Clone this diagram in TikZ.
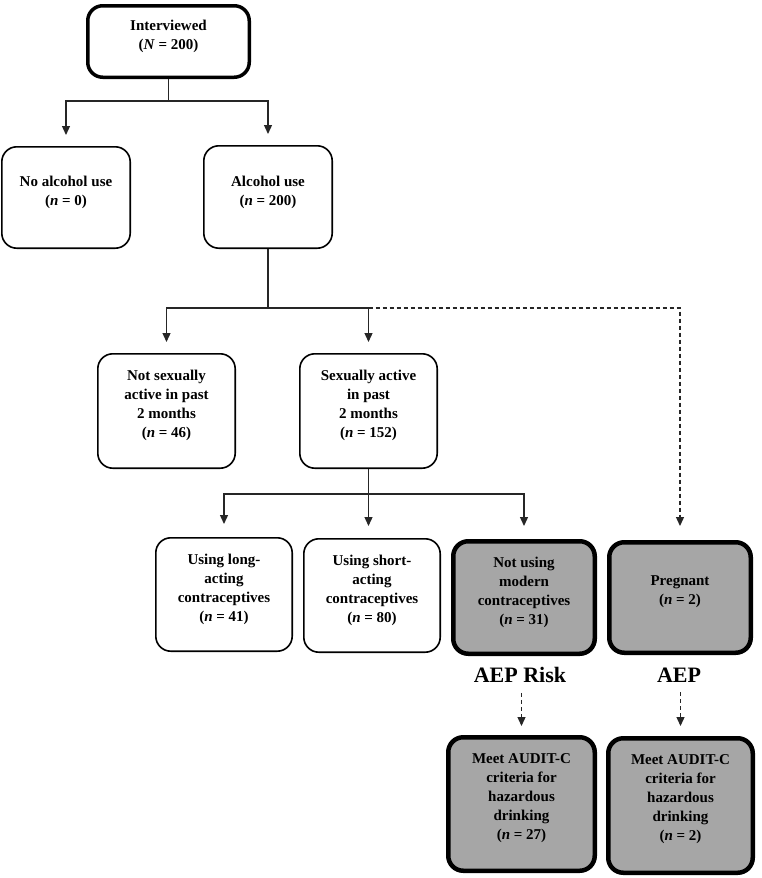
\documentclass[tikz,border=0pt]{standalone}
\usepackage{fontspec}
\setmainfont{Liberation Serif}
\usetikzlibrary{arrows.meta,calc}
\definecolor{boxgray}{RGB}{166,166,166}
\begin{document}
\begin{tikzpicture}[x=1pt,y=-1pt,
  box/.style={draw=black, rounded corners=15pt, line width=1.6pt, fill=white, inner sep=0pt},
  gbox/.style={box, line width=4.5pt, fill=boxgray},
  tbox/.style={box, line width=3.5pt},
  txt/.style={align=center, font={\fontsize{15}{19}\selectfont\bfseries}, inner sep=0pt},
  big/.style={font={\fontsize{22}{26}\selectfont\bfseries}, inner sep=0pt},
  conn/.style={line width=1.3pt, draw=black!85},
  arr/.style={conn, -{Triangle[length=9pt,width=8pt]}},
  darr/.style={arr, dash pattern=on 4pt off 3pt}
]
\useasboundingbox (0,0) rectangle (761,878);

% boxes
\node[tbox, minimum width=161.5pt, minimum height=71.5pt] (int) at (168.5,41.5) {};
\node[box, minimum width=128.4pt, minimum height=101.4pt] (noalc) at (66,197.5) {};
\node[box, minimum width=128.4pt, minimum height=102.4pt] (alc) at (268,197) {};
\node[box, minimum width=137.4pt, minimum height=114.4pt] (nsa) at (166.5,411) {};
\node[box, minimum width=137.4pt, minimum height=114.4pt] (sa) at (368.5,411) {};
\node[box, minimum width=136.4pt, minimum height=113.4pt] (long) at (224,594.5) {};
\node[box, minimum width=136.4pt, minimum height=113.4pt] (short) at (372,595.5) {};
\node[gbox, minimum width=141.5pt, minimum height=112.5pt] (notuse) at (524,597.5) {};
\node[gbox, minimum width=141.5pt, minimum height=110.5pt] (preg) at (680,597.5) {};
\node[gbox, minimum width=146.5pt, minimum height=133.5pt] (meet1) at (521.5,804) {};
\node[gbox, minimum width=144.5pt, minimum height=134.5pt] (meet2) at (680.5,805.5) {};

% texts
\node[txt] (int-t) at ([yshift=5.5pt]int.center) {Interviewed\\(\textit{N} = 200)};
\node[txt] (noalc-t) at ([yshift=5pt]noalc.center) {No alcohol use\\(\textit{n} = 0)};
\node[txt] (alc-t) at ([yshift=5pt]alc.center) {Alcohol use\\(\textit{n} = 200)};
\node[txt] (nsa-t) at ([yshift=5.5pt]nsa.center) {Not sexually\\active in past\\2 months\\(\textit{n} = 46)};
\node[txt] (sa-t) at ([yshift=5.5pt]sa.center) {Sexually active\\in past\\2 months\\(\textit{n} = 152)};
\node[txt] (long-t) at ([yshift=5.5pt]long.center) {Using long-\\acting\\contraceptives\\(\textit{n} = 41)};
\node[txt] (short-t) at ([yshift=5.5pt]short.center) {Using short-\\acting\\contraceptives\\(\textit{n} = 80)};
\node[txt] (notuse-t) at ([yshift=5.5pt]notuse.center) {Not using\\modern\\contraceptives\\(\textit{n} = 31)};
\node[txt] (preg-t) at ([yshift=5.5pt]preg.center) {Pregnant\\(\textit{n} = 2)};
\node[txt] (meet1-t) at ([yshift=6pt]meet1.center) {Meet AUDIT-C\\criteria for\\hazardous\\drinking\\(\textit{n} = 27)};
\node[txt] (meet2-t) at ([yshift=6pt]meet2.center) {Meet AUDIT-C\\criteria for\\hazardous\\drinking\\(\textit{n} = 2)};

\node[big] (aeprisk) at (520,675) {AEP Risk};
\node[big] (aep) at (679,675) {AEP};

% level 1
\coordinate (j1) at ($(int.south)+(0,22)$);
\draw[conn] (int.south) -- (j1);
\draw[arr] (j1) -| ([yshift=11pt]noalc.north);
\draw[arr] (j1) -| ([yshift=11pt]alc.north);

% level 2
\coordinate (j2) at ($(alc.south)+(0,59)$);
\draw[conn] (alc.south) -- (j2);
\draw[arr] (j2) -| ([yshift=11pt]nsa.north);
\draw[arr] (j2) -| ([yshift=11pt]sa.north);
\coordinate (j2r) at (j2 -| sa.north);
\draw[darr] (j2r) -| ([yshift=14pt]preg.north);

% level 3
\coordinate (j3) at ($(sa.south)+(0,25)$);
\draw[conn] (sa.south) -- (j3);
\draw[arr] (j3) -| ([yshift=13pt]long.north);
\coordinate (s3) at ([yshift=12pt]short.north);
\draw[arr] (j3) -- (s3 -| j3);
\draw[arr] (j3) -| ([yshift=13pt]notuse.north);

% AEP arrows
\draw[darr] (meet1.north |- aeprisk.south) ++(0,10) -- ([yshift=9pt]meet1.north);
\draw[darr] (meet2.north |- aep.south) ++(0,10) -- ([yshift=10pt]meet2.north);
\end{tikzpicture}
\end{document}
